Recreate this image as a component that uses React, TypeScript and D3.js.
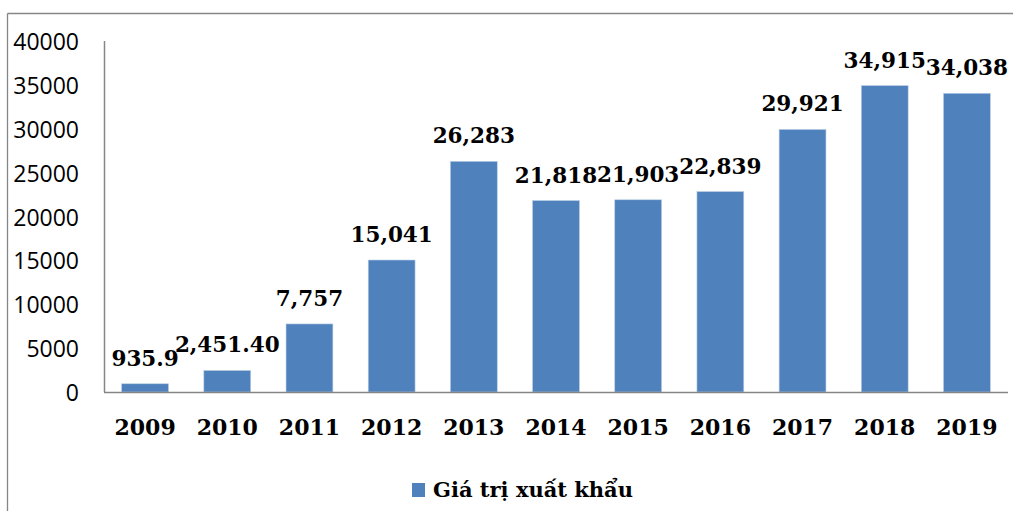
import React from "react";
import * as d3 from "d3";

const years = ["2009", "2010", "2011", "2012", "2013", "2014", "2015", "2016", "2017", "2018", "2019"];
const values = [935.9, 2451.4, 7757, 15041, 26283, 21818, 21903, 22839, 29921, 34915, 34038];
const valueLabels = ["935.9", "2,451.40", "7,757", "15,041", "26,283", "21,818", "21,903", "22,839", "29,921", "34,915", "34,038"];
const yTicks = [0, 5000, 10000, 15000, 20000, 25000, 30000, 35000, 40000];
const seriesName = "Giá trị xuất khẩu";

const W = 1013;
const H = 511;
const BAR = "#4F81BD";
const AXIS = "#868686";
const SERIF = "'DejaVu Serif', serif";
const SANS = "'Open Sans', sans-serif";

export default function App() {
  const x = d3.scaleBand<string>().domain(years).range([104, 1008]).paddingInner(0.43).paddingOuter(0.215);
  const y = d3.scaleLinear().domain([0, 40000]).range([392, 41]);

  return (
    <div style={{ position: "absolute", left: 0, top: 0, width: W, height: H, background: "#fff" }}>
      <svg width={W} height={H} style={{ display: "block" }}>
        <rect x={0} y={0} width={W} height={H} fill="#fff" />
        {/* outer frame */}
        <line x1={7.5} y1={13.5} x2={W} y2={13.5} stroke={AXIS} strokeWidth={1.3} />
        <line x1={7.5} y1={13.5} x2={7.5} y2={H} stroke={AXIS} strokeWidth={1.3} />

        {/* y tick labels */}
        {yTicks.map((t) => (
          <text key={t} x={79} y={y(t)} textAnchor="end" dominantBaseline="central" fontFamily={SANS} fontSize={23} fill="#000">
            {t}
          </text>
        ))}

        {/* bars */}
        {years.map((yr, i) => (
          <rect
            key={yr}
            x={x(yr)!}
            y={y(values[i])}
            width={x.bandwidth()}
            height={y(0) - y(values[i])}
            fill={BAR}
            stroke="#b9cde5"
            strokeWidth={0.6}
          />
        ))}

        {/* axes */}
        <line x1={104.5} y1={y(40000)} x2={104.5} y2={y(0)} stroke={AXIS} strokeWidth={1.5} />
        <line x1={104} y1={y(0) + 0.5} x2={1008} y2={y(0) + 0.5} stroke={AXIS} strokeWidth={1.5} />

        {/* data labels */}
        {years.map((yr, i) => (
          <text
            key={yr}
            x={x(yr)! + x.bandwidth() / 2}
            y={y(values[i]) - 18}
            textAnchor="middle"
            fontFamily={SERIF}
            fontWeight="bold"
            fontSize={21.5}
            fill="#000"
          >
            {valueLabels[i]}
          </text>
        ))}

        {/* x labels */}
        {years.map((yr) => (
          <text
            key={yr}
            x={x(yr)! + x.bandwidth() / 2}
            y={435}
            textAnchor="middle"
            fontFamily={SERIF}
            fontWeight="bold"
            fontSize={22}
            fill="#000"
          >
            {yr}
          </text>
        ))}

        {/* legend */}
        <rect x={412} y={483} width={13} height={14} fill={BAR} />
        <text x={433} y={497} fontFamily={SERIF} fontWeight="bold" fontSize={21} fill="#000">
          {seriesName}
        </text>
      </svg>
    </div>
  );
}
